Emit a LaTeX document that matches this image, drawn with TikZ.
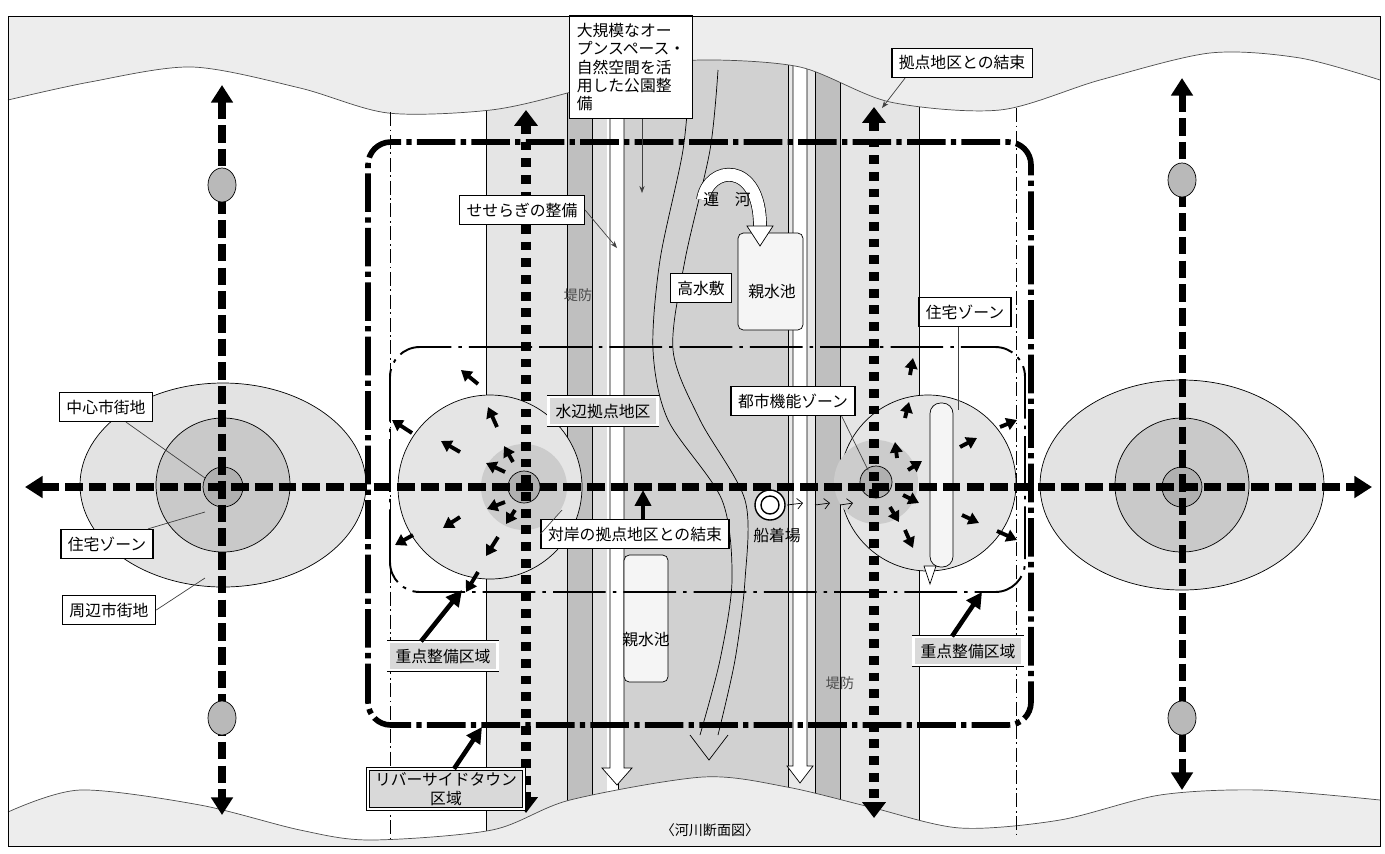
\documentclass[tikz,border=0pt]{standalone}
\usepackage{fontspec}
\setmainfont{Noto Sans CJK JP}
\usetikzlibrary{arrows.meta,positioning,calc}

\newcommand{\lblfont}{\fontsize{9}{10.5}\selectfont}

\tikzset{
  lbl/.style={draw=black, thick, fill=white, inner xsep=4pt, inner ysep=4pt, font=\lblfont},
  zonelbl/.style={draw=black, double, double distance=1.2pt, fill=gray!30, inner xsep=4pt, inner ysep=4pt, font=\lblfont},
  leader/.style={draw=black!75, thin},
  axisarrow/.style={line width=4pt, dash pattern=on 10pt off 3.5pt, {Triangle[width=12pt,length=10pt]}-{Triangle[width=12pt,length=10pt]}},
  linkarrow/.style={line width=5.5pt, dash pattern=on 5pt off 4.5pt, {Triangle[width=13pt,length=9pt]}-{Triangle[width=13pt,length=9pt]}},
  townline/.style={line width=3.2pt, dash pattern=on 22pt off 3pt on 3pt off 3pt, rounded corners=13pt},
  zoneline/.style={line width=1.1pt, dash pattern=on 30pt off 4pt on 2pt off 4pt, rounded corners=17pt},
  borderline/.style={thin, dash pattern=on 8pt off 2pt on 1pt off 2pt},
  spoke/.style={line width=2.2pt, -{Triangle[width=7pt,length=6pt]}},
  callout/.style={line width=2.6pt, -{Triangle[width=9pt,length=9pt]}},
  stopdot/.style={draw=black, fill=gray!55},
  canal/.style={draw=black, thin},
  wave/.style={fill=gray!14}
}

\begin{document}
\begin{tikzpicture}[x=0.02cm, y=-0.02cm]
\useasboundingbox (0,0) rectangle (1385,853);
\fill[white] (0,0) rectangle (1385,853);

% river bands
\fill[gray!20] (486,40) rectangle (567,845);
\fill[gray!50] (567,40) rectangle (592,845);
\fill[gray!25] (592,40) rectangle (607,845);
\fill[gray!36] (618,40) rectangle (788,845);
\fill[gray!18] (788,40) rectangle (815,845);
\fill[gray!50] (815,40) rectangle (840,845);
\fill[gray!20] (840,40) rectangle (919,845);
\foreach \xx in {486,567,592,618,788,815,840,919}
  \draw[thin] (\xx,40) -- (\xx,845);

% white channels with arrow heads
\draw[fill=white, thin] (610,40) -- (610,768) -- (602,768) -- (617,785) -- (632,768) -- (624,768) -- (624,40);
\draw[fill=white, thin] (793,40) -- (793,766) -- (787,766) -- (800,783) -- (813,766) -- (807,766) -- (807,40);

% top and bottom terrain
\fill[wave] (8,16) -- plot[smooth] coordinates {(8,100) (90,82) (192,67) (300,88) (388,113) (491,110) (571,92) (640,70) (700,60) (800,67) (890,102) (1000,110) (1100,80) (1210,53) (1300,58) (1380,80)} -- (1380,16) -- cycle;
\draw[black!70] plot[smooth] coordinates {(8,100) (90,82) (192,67) (300,88) (388,113) (491,110) (571,92) (640,70) (700,60) (800,67) (890,102) (1000,110) (1100,80) (1210,53) (1300,58) (1380,80)};
\fill[wave] (8,846) -- plot[smooth] coordinates {(8,812) (80,790) (200,805) (300,830) (370,840) (492,830) (570,800) (703,777) (787,787) (870,807) (960,828) (1060,820) (1160,795) (1260,790) (1380,800)} -- (1380,846) -- cycle;
\draw[black!70] plot[smooth] coordinates {(8,812) (80,790) (200,805) (300,830) (370,840) (492,830) (570,800) (703,777) (787,787) (870,807) (960,828) (1060,820) (1160,795) (1260,790) (1380,800)};

% area borders
\draw[borderline] (390,112) -- (390,840);
\draw[borderline] (1016,108) -- (1016,835);

% ponds
\draw[fill=gray!8, thin, rounded corners=3pt] (738,233) rectangle (803,330);
\draw[fill=gray!8, thin, rounded corners=3pt] (624,555) rectangle (668,682);

% canal
\draw[canal] plot[smooth] coordinates {(690,70) (683,150) (660,260) (653,350) (668,420) (722,500) (732,580) (720,660) (700,735)};
\draw[canal] plot[smooth] coordinates {(718,70) (710,150) (685,260) (673,350) (700,420) (745,500) (745,580) (735,660) (718,735)};
\draw[canal] (690,735) -- (709,760) -- (728,735);
\draw[double=white, double distance=7pt, thin] (703,200) .. controls (708,165) and (760,160) .. (760,226);
\draw[fill=white, thin] (747,226) -- (773,226) -- (760,246) -- cycle;

% cities
\draw[fill=gray!22] (223,485) ellipse [x radius=143, y radius=102];
\draw[fill=gray!42] (223,485) circle [radius=67];
\draw[fill=gray!62] (223,487) circle [radius=20];
\draw[fill=gray!22] (1182,485) ellipse [x radius=142, y radius=105];
\draw[fill=gray!42] (1182,485) circle [radius=67];
\draw[fill=gray!62] (1182,487) circle [radius=20];

% waterfront zones
\draw[fill=gray!20, thin] (490,487) circle [radius=92];
\draw[fill=gray!40, draw=none] (524,487) circle [radius=43];
\draw[fill=gray!62] (524,487) circle [radius=16];
\draw[fill=gray!20, thin] (928,483) circle [radius=88];
\draw[fill=gray!40, draw=none] (876,482) circle [radius=42];
\draw[fill=gray!62] (876,482) circle [radius=16];
\draw[fill=gray!8, thin, rounded corners=6pt] (930,403) rectangle (953,567);

% boat landing
\draw[thick, fill=white] (770,505) circle [radius=15];
\draw[thick] (770,505) circle [radius=9];
\foreach \xa/\xb in {787/803, 815/830, 840/853}
  \draw[thin, -{Straight Barb[length=3pt]}] (\xa,505) -- (\xb,503);

% districts
\draw[townline] (368,725) -- (368,142) -- (1031,142) -- (1031,725) -- cycle;
\draw[zoneline] (390,592) -- (390,347) -- (1025,347) -- (1025,592) -- cycle;

% main axes
\draw[axisarrow] (25,487) -- (1372,487);
\draw[axisarrow] (222,85) -- (222,815);
\draw[axisarrow] (1182,78) -- (1182,790);
\draw[stopdot] (222,185) ellipse [x radius=14, y radius=17];
\draw[stopdot] (222,718) ellipse [x radius=14, y radius=17];
\draw[stopdot] (1182,180) ellipse [x radius=14, y radius=17];
\draw[stopdot] (1182,718) ellipse [x radius=14, y radius=17];
\draw[linkarrow] (526,110) -- (526,813);
\draw[linkarrow] (874,107) -- (874,818);

% radiating arrows
\foreach \a/\b/\c/\d in {412/433/392/420, 460/452/441/441, 497/427/488/407, 513/462/504/446,
    505/472/486/463, 505/502/487/509, 515/510/506/524, 460/517/443/528, 413/535/395/545,
    498/537/486/556, 478/572/466/592, 478/384/461/370}
  \draw[spoke] (\a,\b) -- (\c,\d);
\foreach \a/\b/\c/\d in {897/458/895/442, 908/470/922/461, 903/495/919/503, 890/507/899/522,
    905/530/913/548, 960/447/977/438, 962/515/979/523, 997/531/1017/540, 1000/427/1017/420,
    910/375/913/358, 905/418/909/402}
  \draw[spoke] (\a,\b) -- (\c,\d);
\draw[thin, fill=white] (924,566) -- (936,566) -- (930,584) -- cycle;

% labels
\node (park) [lbl, align=left] at (631,67) {大規模なオー\\プンスペース・\\自然空間を活\\用した公園整\\備};
\node (link) [lbl] at (962,63) {拠点地区との結束};
\node (stream) [lbl] at (522,210) {せせらぎの整備};
\node (flood) [lbl] at (701,288) {高水敷};
\node (pondtop) [font=\lblfont] at (772,292) {親水池};
\node (pondlow) [font=\lblfont] at (646,640) {親水池};
\node (canalname) [font=\lblfont] at (727,200) {運\quad 河};
\node (levL) [font=\fontsize{8}{9}\selectfont, text=black!70] at (578,295) {堤防};
\node (levR) [font=\fontsize{8}{9}\selectfont, text=black!70] at (840,683) {堤防};
\node (urban) [lbl] at (793,401) {都市機能ゾーン};
\node (homeR) [lbl] at (965,312) {住宅ゾーン};
\node (water) [zonelbl] at (603,411) {水辺拠点地区};
\node (across) [lbl] at (635,534) {対岸の拠点地区との結束};
\node (core) [lbl] at (106,407) {中心市街地};
\node (homeL) [lbl] at (107,544) {住宅ゾーン};
\node (outer) [lbl] at (109,610) {周辺市街地};
\node (keyL) [zonelbl] at (443,656) {重点整備区域};
\node (keyR) [zonelbl] at (968,651) {重点整備区域};
\node (town) [zonelbl, align=center, inner ysep=2pt] at (446,789) {リバーサイドタウン\\区域};
\node (pier) [font=\lblfont] at (777,535) {船着場};
\node (title) [font=\fontsize{8}{9}\selectfont] at (710,830) {〈河川断面図〉};

% leaders and callouts
\coordinate (parkTip) at (642,193);
\coordinate (linkTip) at (882,108);
\coordinate (streamTip) at (617,248);
\coordinate (urbanTip) at (868,470);
\coordinate (homeRTip) at (958,410);
\coordinate (coreTip) at (205,478);
\coordinate (homeLTip) at (205,512);
\coordinate (outerTip) at (205,578);
\coordinate (acrossTip) at (643,490);
\coordinate (acrossEdge) at (562,510);
\coordinate (keyLTip) at (462,590);
\coordinate (keyRTip) at (982,592);
\coordinate (townTip) at (482,727);

\draw[leader, -{Stealth[length=4pt]}] (park.south) ++(11,0) -- (parkTip);
\draw[leader, -{Stealth[length=4pt]}] (link.south west) ++(14,0) -- (linkTip);
\draw[leader, -{Stealth[length=4pt]}] (stream.east) -- (streamTip);
\draw[leader] (urban.south east) ++(-14,0) -- (urbanTip);
\draw[leader] (homeR.south) ++(-7,0) -- (homeRTip);
\draw[leader] (core.south) ++(20,0) -- (coreTip);
\draw[leader] (homeL.north east) ++(-6,0) -- (homeLTip);
\draw[leader] (outer.east) -- (outerTip);
\draw[leader] (across.west) -- (acrossEdge);
\draw[callout] (across.north) ++(8,0) -- (acrossTip);
\draw[callout] (keyL.north) ++(-22,0) -- (keyLTip);
\draw[callout] (keyR.north) ++(-16,0) -- (keyRTip);
\draw[callout] (town.north) ++(8,0) -- (townTip);

% frame
\draw[thin] (8,16) rectangle (1380,846);
\end{tikzpicture}
\end{document}
